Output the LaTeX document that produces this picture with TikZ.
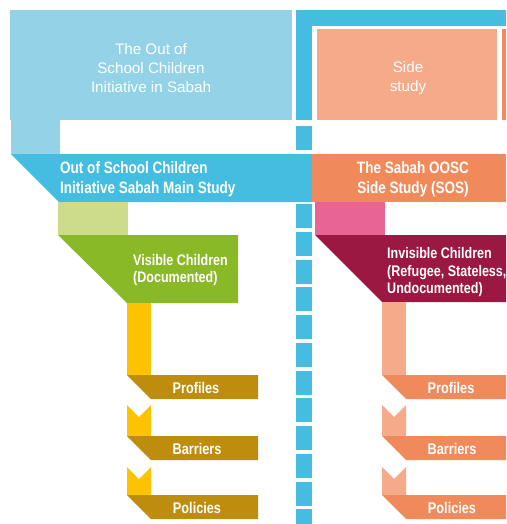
\documentclass[tikz,border=0pt]{standalone}
\usepackage{fontspec}
\setmainfont{Liberation Sans}
\newfontfamily\condbf[FakeStretch=0.82]{Liberation Sans Bold}
\definecolor{topblue}{HTML}{93D2E7}
\definecolor{colblue}{HTML}{45BDE1}
\definecolor{salmon}{HTML}{F5AB8A}
\definecolor{sosorange}{HTML}{F08A5A}
\definecolor{pinkc}{HTML}{E86494}
\definecolor{magentac}{HTML}{9B1842}
\definecolor{lgreen}{HTML}{CDDC8A}
\definecolor{greenc}{HTML}{8AB928}
\definecolor{yellowc}{HTML}{FDC300}
\definecolor{goldc}{HTML}{BE8D0E}
\tikzset{
  lighttxt/.style={text=white, font=\fontsize{15.2}{19}\selectfont, align=center, inner sep=0pt},
  headtxt/.style={text=white, font=\condbf\fontsize{16.5}{20}\selectfont, inner sep=0pt},
  subtxt/.style={text=white, font=\condbf\fontsize{15.3}{17.5}\selectfont, inner sep=0pt},
  bartxt/.style={text=white, font=\condbf\fontsize{15.5}{17}\selectfont, inner sep=0pt}
}
\begin{document}
\begin{tikzpicture}[x=1pt,y=-1pt]
\useasboundingbox (0,0) rectangle (506,524);
% top box and strip
\fill[topblue] (10,10) rectangle (292,120);
\fill[topblue] (11,120) rectangle (60,154);
% blue separator column
\fill[colblue] (296,10) rectangle (506,26);
\fill[colblue] (296,10) rectangle (312,120);
\fill[colblue] (296,126) rectangle (312,150);
\foreach \k in {0,...,11}{
  \fill[colblue] (296,{204+27.75*\k}) rectangle (312,{min(524,228+27.75*\k)});
}
% side box
\fill[salmon] (317,29) rectangle (497,120);
\fill[sosorange] (502,29) rectangle (506,120);
% main bars
\fill[colblue] (11,154) -- (312,154) -- (312,202) -- (59,202) -- cycle;
\fill[sosorange] (312,154) rectangle (506,202);
% small boxes
\fill[lgreen] (58,202) rectangle (128,235);
\fill[pinkc] (315,202) rectangle (385,235);
% children boxes
\fill[greenc] (58,235) -- (238,235) -- (238,303) -- (127,303) -- cycle;
\fill[magentac] (315,235) -- (506,235) -- (506,302) -- (382,302) -- cycle;
% left chain
\fill[yellowc] (127,303) rectangle (151,375);
\fill[goldc] (127,375) -- (258,375) -- (258,399) -- (151,399) -- cycle;
\fill[yellowc] (127,405) -- (139,417) -- (151,405) -- (151,436) -- (127,436) -- cycle;
\fill[goldc] (127,436) -- (258,436) -- (258,460) -- (151,460) -- cycle;
\fill[yellowc] (127,467) -- (139,479) -- (151,467) -- (151,495) -- (127,495) -- cycle;
\fill[goldc] (127,495) -- (258,495) -- (258,519) -- (151,519) -- cycle;
% right chain
\fill[salmon] (382,302) rectangle (406,375);
\fill[sosorange] (382,375) -- (506,375) -- (506,399) -- (406,399) -- cycle;
\fill[salmon] (382,405) -- (394,417) -- (406,405) -- (406,436) -- (382,436) -- cycle;
\fill[sosorange] (382,436) -- (506,436) -- (506,460) -- (406,460) -- cycle;
\fill[salmon] (382,467) -- (394,479) -- (406,467) -- (406,495) -- (382,495) -- cycle;
\fill[sosorange] (382,495) -- (506,495) -- (506,519) -- (406,519) -- cycle;
% texts
\node[lighttxt] (topt) at (151,68) {The Out of\\School Children\\Initiative in Sabah};
\node[lighttxt] (sidet) at (408,78) {Side\\study};
\node[headtxt, align=left, anchor=west] (maint) at (60,179) {Out of School Children\\Initiative Sabah Main Study};
\node[headtxt, align=center] (sost) at (413,179) {The Sabah OOSC\\Side Study (SOS)};
\node[subtxt, align=left, anchor=west] (vist) at (133,270) {Visible Children\\(Documented)};
\node[subtxt, align=left, anchor=west] (invt) at (387,272.5) {Invisible Children\\(Refugee, Stateless,\\Undocumented)};
\node[bartxt] (lprof) at (196,387.5) {Profiles};
\node[bartxt] (lbarr) at (197,448.5) {Barriers};
\node[bartxt] (lpol) at (197,507.5) {Policies};
\node[bartxt] (rprof) at (451,387.5) {Profiles};
\node[bartxt] (rbarr) at (452,448.5) {Barriers};
\node[bartxt] (rpol) at (452,507.5) {Policies};
\end{tikzpicture}
\end{document}
